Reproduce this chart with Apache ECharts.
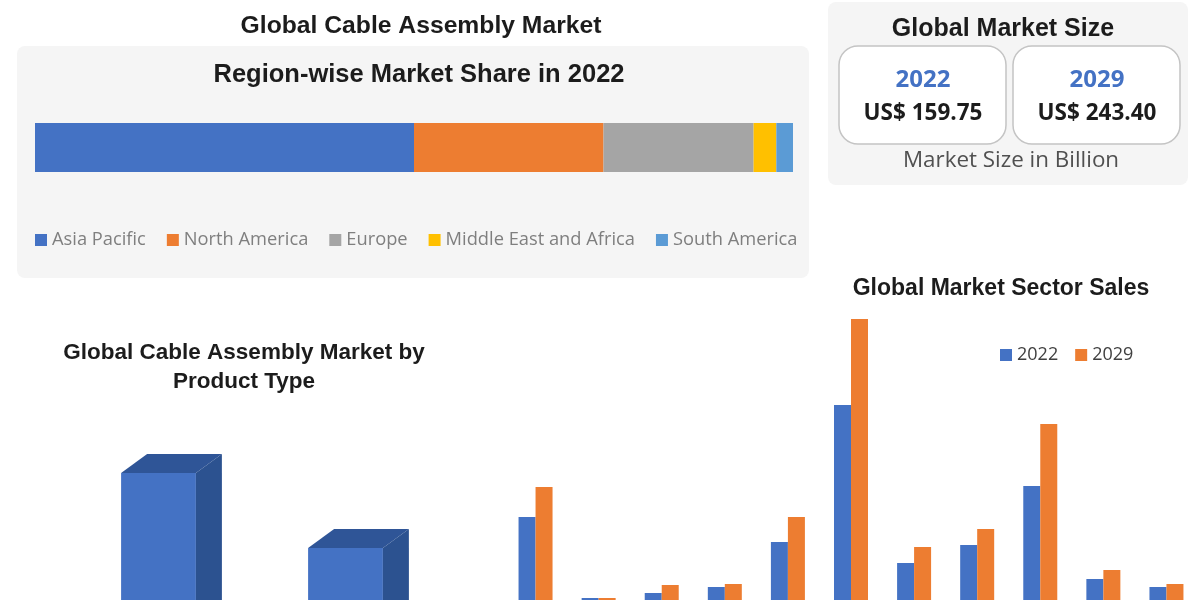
<!DOCTYPE html>
<html lang="en">
<head>
<meta charset="utf-8">
<style>
  html, body { margin: 0; height: 100%; background: #fff; }
  #container { width: 1200px; height: 600px; }
</style>
<script src="https://cdn.jsdelivr.net/npm/echarts@6/dist/echarts.min.js"></script>
</head>
<body>
<div id="container"></div>
<script>
// region share, 2022 (%)
var regions = ['Asia Pacific', 'North America', 'Europe', 'Middle East and Africa', 'South America'];
var regionShare = [50, 25, 19.8, 3, 2.2];
var regionColors = ['#4472c4', '#ed7d31', '#a5a5a5', '#ffc000', '#5b9bd5'];

// product type, the category labels are cut off in the picture
var productTypes = ['Type 1', 'Type 2'];
var productValues = [132, 57];

// sector sales, the category labels are cut off in the picture
var sectors = ['S1', 'S2', 'S3', 'S4', 'S5', 'S6', 'S7', 'S8', 'S9', 'S10', 'S11'];
var sales2022 = [88, 7, 12, 18, 63, 200, 42, 60, 119, 26, 18];
var sales2029 = [118, 7, 20, 21, 88, 286, 58, 76, 181, 35, 21];

var sizeYears = ['2022', '2029'];
var sizeValues = ['US$ 159.75', 'US$ 243.40'];

var myChart = echarts.init(document.getElementById('container'));
var titleFont = '"Liberation Sans", Arial, sans-serif';
var bodyFont = '"Open Sans", sans-serif';

function title(text, x, y, size) {
    return {
        text: text, left: x, top: y, textAlign: 'center', textVerticalAlign: 'middle', padding: 0,
        textStyle: { fontFamily: titleFont, fontSize: size, fontWeight: 'bold', color: '#1c1c1c', lineHeight: 29 }
    };
}

function card(x, i) {
    return [
        { type: 'rect', shape: { x: x, y: 46, width: 167, height: 98, r: 19 }, z: 1,
          style: { fill: '#fff', stroke: '#c4c4c4', lineWidth: 1.5 } },
        { type: 'text', x: x + 84, y: 80, z: 2,
          style: { text: sizeYears[i], fontFamily: bodyFont, fontSize: 24, fontWeight: 'bold', fill: '#4472c4', align: 'center', verticalAlign: 'middle' } },
        { type: 'text', x: x + 84, y: 114, z: 2,
          style: { text: sizeValues[i], fontFamily: bodyFont, fontSize: 22.5, fontWeight: 'bold', fill: '#1c1c1c', align: 'center', verticalAlign: 'middle' } }
    ];
}

// box with a top and a side face, drawn from the scale
function renderBox(params, api) {
    var base = api.coord([api.value(0), 0]);
    var top = api.coord([api.value(0), api.value(1)]);
    var w = api.size([1, 0])[0] * 0.4;
    var dx = 26, dy = 19;
    var l = base[0] - w / 2, r = base[0] + w / 2;
    return {
        type: 'group',
        children: [
            { type: 'rect', shape: { x: l, y: top[1], width: w, height: base[1] - top[1] }, style: { fill: '#4472c4' } },
            { type: 'polygon', shape: { points: [[l, top[1]], [l + dx, top[1] - dy], [r + dx, top[1] - dy], [r, top[1]]] }, style: { fill: '#2f5597' } },
            { type: 'polygon', shape: { points: [[r, top[1]], [r + dx, top[1] - dy], [r + dx, base[1]], [r, base[1]]] }, style: { fill: '#2c5290' } }
        ]
    };
}

var shareSeries = regions.map(function (name, i) {
    return {
        name: name, type: 'bar', stack: 'share', xAxisIndex: 0, yAxisIndex: 0,
        barWidth: '100%', itemStyle: { color: regionColors[i] }, data: [regionShare[i]]
    };
});

var option = {
    animation: false,
    backgroundColor: '#fff',
    title: [
        title('Global Cable Assembly Market', 421, 26, 24.7),
        title('Region-wise Market Share in 2022', 419, 75, 25.5),
        title('Global Market Size', 1003, 29, 25),
        title('Global Cable Assembly Market by\nProduct Type', 244, 367, 22.5),
        title('Global Market Sector Sales', 1001, 289, 23)
    ],
    grid: [
        { left: 35, top: 123, width: 758, height: 49, outerBoundsMode: 'none' },
        { left: 65, top: 400, width: 374, height: 205, outerBoundsMode: 'none' },
        { left: 504, top: 300, width: 694, height: 305, outerBoundsMode: 'none' }
    ],
    xAxis: [
        { gridIndex: 0, type: 'value', min: 0, max: 100, show: false },
        { gridIndex: 1, type: 'category', data: productTypes, show: false },
        { gridIndex: 2, type: 'category', data: sectors, show: false }
    ],
    yAxis: [
        { gridIndex: 0, type: 'category', data: ['2022'], show: false },
        { gridIndex: 1, type: 'value', min: 0, max: 205, show: false },
        { gridIndex: 2, type: 'value', min: 0, max: 305, show: false }
    ],
    legend: [
        { data: regions, left: 35, top: 231, padding: 0, itemWidth: 12, itemHeight: 12, itemGap: 21, icon: 'rect',
          selectedMode: false, textStyle: { fontFamily: bodyFont, fontSize: 18.3, color: '#7f7f7f' } },
        { data: ['2022', '2029'], left: 1000, top: 346, padding: 0, itemWidth: 12, itemHeight: 12, itemGap: 17, icon: 'rect',
          selectedMode: false, textStyle: { fontFamily: bodyFont, fontSize: 18, color: '#404040' } }
    ],
    graphic: { elements: [
        { type: 'rect', shape: { x: 17, y: 46, width: 792, height: 232, r: 8 }, z: 0, style: { fill: '#f5f5f5' } },
        { type: 'rect', shape: { x: 828, y: 2, width: 360, height: 183, r: 8 }, z: 0, style: { fill: '#f5f5f5' } },
        { type: 'text', x: 1011, y: 161, z: 2,
          style: { text: 'Market Size in Billion', fontFamily: bodyFont, fontSize: 22.4, fill: '#505050', align: 'center', verticalAlign: 'middle' } }
    ].concat(card(839, 0), card(1013, 1)) },
    series: shareSeries.concat([
        { type: 'custom', xAxisIndex: 1, yAxisIndex: 1, renderItem: renderBox, clip: false,
          encode: { x: 0, y: 1 }, data: productValues.map(function (v, i) { return [i, v]; }) },
        { name: '2022', type: 'bar', xAxisIndex: 2, yAxisIndex: 2, barWidth: 17, barGap: 0,
          itemStyle: { color: '#4472c4' }, data: sales2022 },
        { name: '2029', type: 'bar', xAxisIndex: 2, yAxisIndex: 2, barWidth: 17, barGap: 0,
          itemStyle: { color: '#ed7d31' }, data: sales2029 }
    ])
};

myChart.setOption(option);
</script>
</body>
</html>
